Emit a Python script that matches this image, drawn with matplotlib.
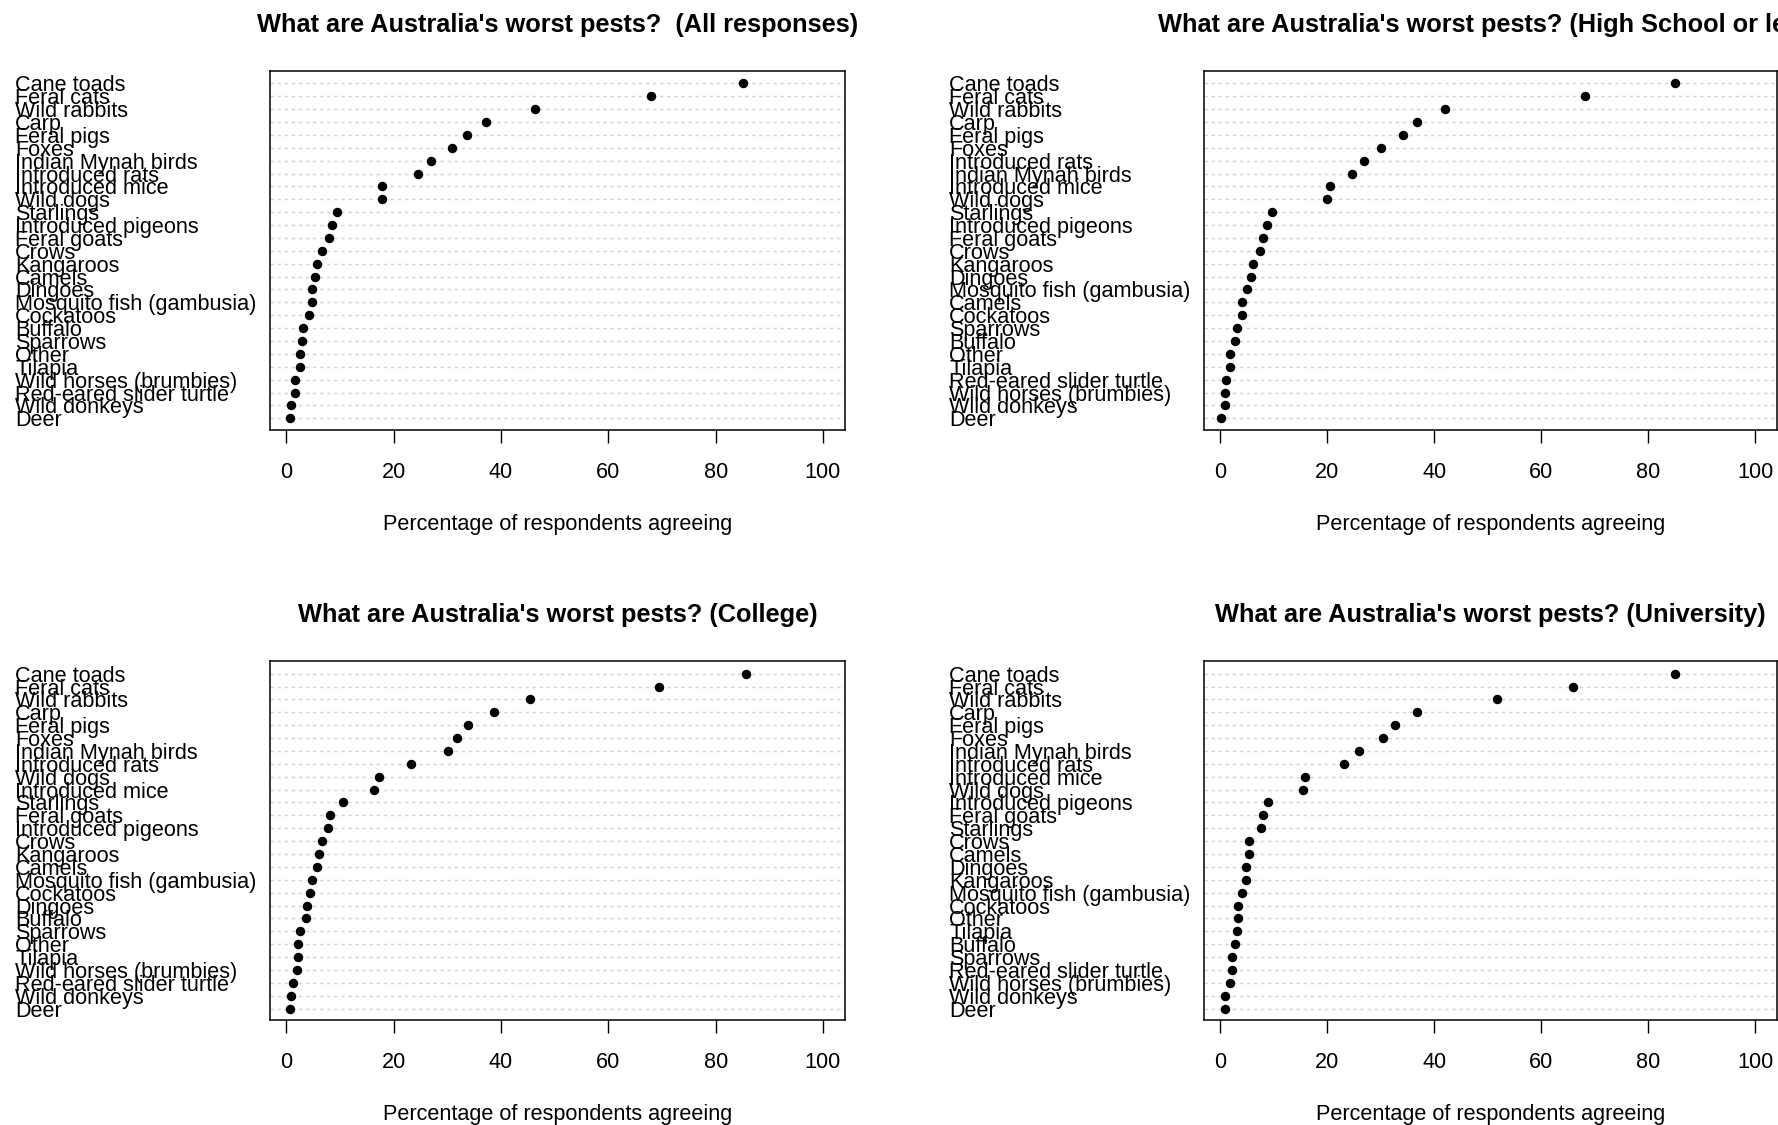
import numpy as np
import matplotlib.pyplot as plt

plt.rcParams['font.family'] = ['Liberation Sans', 'DejaVu Sans']

# percentages per education group, listed from top row to bottom row
all_labels = ['Cane toads', 'Feral cats', 'Wild rabbits', 'Carp', 'Feral pigs', 'Foxes',
              'Indian Mynah birds', 'Introduced rats', 'Introduced mice', 'Wild dogs',
              'Starlings', 'Introduced pigeons', 'Feral goats', 'Crows', 'Kangaroos',
              'Camels', 'Dingoes', 'Mosquito fish (gambusia)', 'Cockatoos', 'Buffalo',
              'Sparrows', 'Other', 'Tilapia', 'Wild horses (brumbies)',
              'Red-eared slider turtle', 'Wild donkeys', 'Deer']
all_vals = [85.1, 68.0, 46.4, 37.3, 33.6, 30.9, 27.0, 24.5, 17.8, 17.8, 9.4, 8.6, 8.0,
            6.7, 5.7, 5.4, 4.8, 4.8, 4.2, 3.2, 2.9, 2.6, 2.6, 1.6, 1.6, 0.9, 0.6]

hs_labels = ['Cane toads', 'Feral cats', 'Wild rabbits', 'Carp', 'Feral pigs', 'Foxes',
             'Introduced rats', 'Indian Mynah birds', 'Introduced mice', 'Wild dogs',
             'Starlings', 'Introduced pigeons', 'Feral goats', 'Crows', 'Kangaroos',
             'Dingoes', 'Mosquito fish (gambusia)', 'Camels', 'Cockatoos', 'Sparrows',
             'Buffalo', 'Other', 'Tilapia', 'Red-eared slider turtle',
             'Wild horses (brumbies)', 'Wild donkeys', 'Deer']
hs_vals = [85.1, 68.2, 42.0, 36.8, 34.2, 30.1, 26.8, 24.6, 20.6, 20.0, 9.6, 8.7, 8.0,
           7.4, 6.1, 5.8, 5.0, 4.0, 4.0, 3.1, 2.8, 1.9, 1.9, 1.1, 0.8, 0.8, 0.2]

col_labels = ['Cane toads', 'Feral cats', 'Wild rabbits', 'Carp', 'Feral pigs', 'Foxes',
              'Indian Mynah birds', 'Introduced rats', 'Wild dogs', 'Introduced mice',
              'Starlings', 'Feral goats', 'Introduced pigeons', 'Crows', 'Kangaroos',
              'Camels', 'Mosquito fish (gambusia)', 'Cockatoos', 'Dingoes', 'Buffalo',
              'Sparrows', 'Other', 'Tilapia', 'Wild horses (brumbies)',
              'Red-eared slider turtle', 'Wild donkeys', 'Deer']
col_vals = [85.7, 69.4, 45.4, 38.7, 33.8, 31.8, 30.2, 23.2, 17.3, 16.4, 10.6, 8.1, 7.7,
            6.7, 6.0, 5.7, 4.8, 4.5, 3.9, 3.6, 2.6, 2.2, 2.2, 1.9, 1.2, 0.9, 0.6]

uni_labels = ['Cane toads', 'Feral cats', 'Wild rabbits', 'Carp', 'Feral pigs', 'Foxes',
              'Indian Mynah birds', 'Introduced rats', 'Introduced mice', 'Wild dogs',
              'Introduced pigeons', 'Feral goats', 'Starlings', 'Crows', 'Camels',
              'Dingoes', 'Kangaroos', 'Mosquito fish (gambusia)', 'Cockatoos', 'Other',
              'Tilapia', 'Buffalo', 'Sparrows', 'Red-eared slider turtle',
              'Wild horses (brumbies)', 'Wild donkeys', 'Deer']
uni_vals = [85.1, 65.9, 51.7, 36.8, 32.6, 30.4, 26.0, 23.2, 15.8, 15.4, 9.0, 8.0, 7.7,
            5.3, 5.3, 4.8, 4.8, 4.0, 3.4, 3.4, 3.1, 2.7, 2.2, 2.2, 1.8, 0.8, 0.8]

titles = ["What are Australia's worst pests?  (All responses)",
          "What are Australia's worst pests? (High School or less)",
          "What are Australia's worst pests? (College)",
          "What are Australia's worst pests? (University)"]

W, H = 1778, 1125
fig = plt.figure(figsize=(W / 100, H / 100), dpi=100)

# panel boxes in pixels: left, top, width, height
boxes = [(270, 70.7, 575, 359.3), (1204, 70.7, 573, 359.3),
         (270, 661, 575, 359.3), (1204, 661, 573, 359.3)]
panels = [(all_labels, all_vals), (hs_labels, hs_vals),
          (col_labels, col_vals), (uni_labels, uni_vals)]


def dotchart(ax, labels, vals, title):
    n = len(labels)
    y = n - np.arange(n)
    for yy in y:
        ax.axhline(yy, color='#d3d3d3', lw=1.0, dashes=(2.4, 2.7), zorder=1)
    ax.plot(vals, y, 'o', color='black', markersize=5.8, zorder=3)
    ax.set_xlim(-3.04, 104.1)
    ax.set_ylim(0.09, n + 0.98)
    ax.set_xticks([0, 20, 40, 60, 80, 100])
    ax.tick_params(axis='x', direction='out', length=9.1, width=1.0, pad=14,
                   labelsize=15.6, color='black')
    ax.set_yticks(y)
    ax.set_yticklabels(labels, fontsize=15.6, ha='left')
    ax.tick_params(axis='y', length=0, pad=183.6)
    for s in ax.spines.values():
        s.set_linewidth(1.1)
        s.set_color('black')
    ax.set_xlabel('Percentage of respondents agreeing', fontsize=15.6, labelpad=22)
    ax.set_title(title, fontsize=18.3, fontweight='bold', pad=28)


for (x0, top, w, h), (labels, vals), title in zip(boxes, panels, titles):
    ax = fig.add_axes([x0 / W, 1 - (top + h) / H, w / W, h / H])
    dotchart(ax, labels, vals, title)

fig.savefig('out.png', dpi=100)
